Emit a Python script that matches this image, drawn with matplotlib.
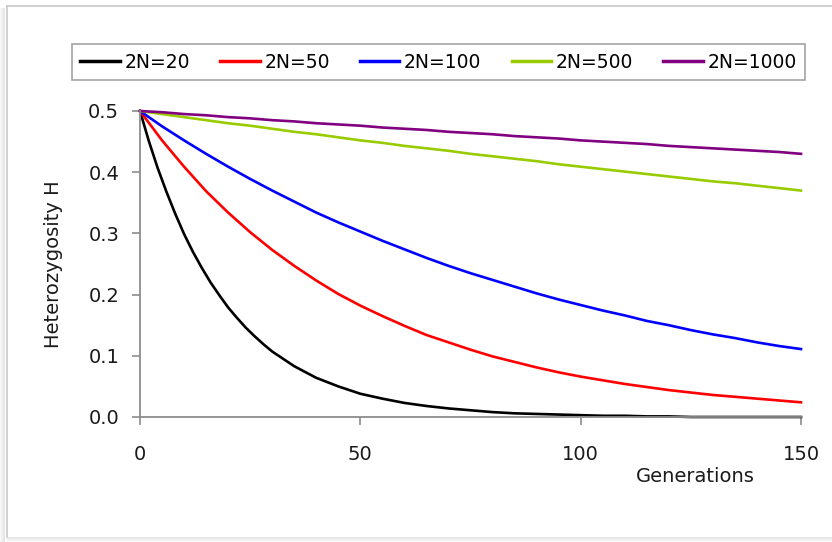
import matplotlib
matplotlib.use("Agg")
import matplotlib.pyplot as plt
from matplotlib.patches import Rectangle
from matplotlib.lines import Line2D

generations = list(range(0, 151, 5))
generations_2n20 = list(range(0, 30, 2)) + list(range(30, 151, 5))

h_2n20 = [0.500, 0.451, 0.407, 0.368, 0.332, 0.299, 0.270, 0.244, 0.220, 0.199,
          0.179, 0.162, 0.146, 0.132, 0.119,
          0.107, 0.083, 0.064, 0.050, 0.038, 0.030, 0.023, 0.018, 0.014, 0.011,
          0.008, 0.006, 0.005, 0.004, 0.003, 0.002, 0.002, 0.001, 0.001, 0.000,
          0.000, 0.000, 0.000, 0.000, 0.000]
h_2n50 = [0.500, 0.452, 0.409, 0.369, 0.334, 0.302, 0.273, 0.247, 0.223, 0.201,
          0.182, 0.165, 0.149, 0.134, 0.122, 0.110, 0.099, 0.090, 0.081, 0.073,
          0.066, 0.060, 0.054, 0.049, 0.044, 0.040, 0.036, 0.033, 0.030, 0.027, 0.024]
h_2n100 = [0.500, 0.475, 0.452, 0.430, 0.409, 0.389, 0.370, 0.352, 0.334, 0.318,
           0.303, 0.288, 0.274, 0.260, 0.247, 0.235, 0.224, 0.213, 0.202, 0.192,
           0.183, 0.174, 0.166, 0.157, 0.150, 0.142, 0.135, 0.129, 0.122, 0.116, 0.111]
h_2n500 = [0.500, 0.495, 0.490, 0.485, 0.480, 0.476, 0.471, 0.466, 0.462, 0.457,
           0.452, 0.448, 0.443, 0.439, 0.435, 0.430, 0.426, 0.422, 0.418, 0.413,
           0.409, 0.405, 0.401, 0.397, 0.393, 0.389, 0.385, 0.382, 0.378, 0.374, 0.370]
h_2n1000 = [0.500, 0.498, 0.495, 0.493, 0.490, 0.488, 0.485, 0.483, 0.480, 0.478,
            0.476, 0.473, 0.471, 0.469, 0.466, 0.464, 0.462, 0.459, 0.457, 0.455,
            0.452, 0.450, 0.448, 0.446, 0.443, 0.441, 0.439, 0.437, 0.435, 0.433, 0.430]

series = [("2N=20", generations_2n20, h_2n20, "#000000"),
          ("2N=50", generations, h_2n50, "#FF0000"),
          ("2N=100", generations, h_2n100, "#0000FF"),
          ("2N=500", generations, h_2n500, "#99CC00"),
          ("2N=1000", generations, h_2n1000, "#800080")]

y_ticks = [0.0, 0.1, 0.2, 0.3, 0.4, 0.5]
x_ticks = [0, 50, 100, 150]

W, H = 832, 542
fig = plt.figure(figsize=(W / 100, H / 100), dpi=100)
plt.rcParams['font.family'] = ['DejaVu Sans']

# outer frame with soft shadow
for i, a in enumerate([0.05, 0.09, 0.13, 0.17, 0.2]):
    fig.patches.append(Rectangle((i / W, 0), 1 / W, 1 - 8 / H, transform=fig.transFigure,
                                 facecolor="#808080", alpha=a, edgecolor="none"))
    fig.patches.append(Rectangle((7 / W, i / H), 1 - 7 / W, 1 / H, transform=fig.transFigure,
                                 facecolor="#808080", alpha=a, edgecolor="none"))
fig.lines.append(Line2D([7 / W, 1], [1 - 6 / H, 1 - 6 / H], transform=fig.transFigure,
                        color="#c8c8c8", lw=1.2))
fig.lines.append(Line2D([7 / W, 7 / W], [5 / H, 1 - 6 / H], transform=fig.transFigure,
                        color="#c8c8c8", lw=1.2))

ax = fig.add_axes([140 / W, (H - 417) / H, (801 - 140) / W, (417 - 111) / H])
handles = []
for label, xs, vals, col in series:
    ln, = ax.plot(xs, vals, color=col, lw=1.9, label=label, clip_on=False,
                  solid_joinstyle="round")
    handles.append(ln)

ax.set_xlim(0, 150)
ax.set_ylim(0, 0.5)
ax.set_xticks(x_ticks)
ax.set_yticks(y_ticks)
ax.set_yticklabels([f"{v:.1f}" for v in y_ticks])
for s in ["top", "right"]:
    ax.spines[s].set_visible(False)
for s in ["left", "bottom"]:
    ax.spines[s].set_color("#8c8c8c")
    ax.spines[s].set_linewidth(1.3)
ax.tick_params(axis="both", colors="#8c8c8c", length=6, width=1.2, labelcolor="#1a1a1a",
               labelsize=14)
ax.tick_params(axis="y", pad=9)
ax.tick_params(axis="x", pad=14)

ax.set_ylabel("Heterozygosity H", fontsize=14, color="#1a1a1a", labelpad=18)
fig.text(695 / W, 1 - 476 / H, "Generations", fontsize=14, color="#1a1a1a",
         ha="center", va="center")

leg = fig.legend(handles=handles, loc="lower left",
                 bbox_to_anchor=(72 / W, 1 - 80 / H, (805 - 72) / W, 40 / H),
                 mode="expand", ncol=5, fontsize=13.5, frameon=True, fancybox=False,
                 edgecolor="#8c8c8c", handlelength=2.1, handletextpad=0.25,
                 borderaxespad=0, borderpad=0.45)
leg.get_frame().set_linewidth(1.2)
for lh in leg.get_lines():
    lh.set_linewidth(2.5)

fig.savefig("out.png", dpi=100)
